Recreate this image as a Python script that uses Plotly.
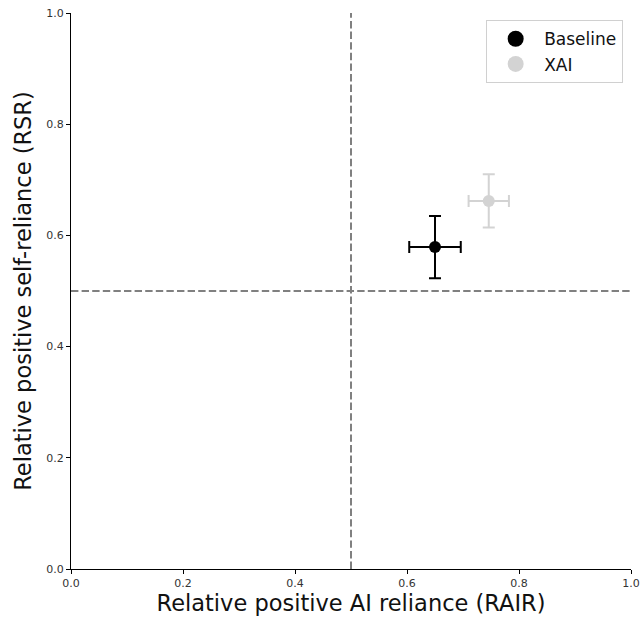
import plotly.graph_objects as go

groups = ["Baseline", "XAI"]
colors = ["black", "lightgray"]
rair = [0.650, 0.746]
rair_err = [0.046, 0.036]
rsr = [0.579, 0.662]
rsr_err = [0.056, 0.048]
threshold = 0.5
ticks = [0.0, 0.2, 0.4, 0.6, 0.8, 1.0]

fig = go.Figure()
for g, c, x, xe, y, ye in zip(groups, colors, rair, rair_err, rsr, rsr_err):
    fig.add_trace(go.Scatter(
        x=[x], y=[y], mode="markers", showlegend=False,
        marker=dict(color=c, size=12),
        error_x=dict(type="data", array=[xe], color=c, thickness=2, width=6),
        error_y=dict(type="data", array=[ye], color=c, thickness=2, width=6),
    ))
for g, c in zip(groups, colors):
    fig.add_trace(go.Scatter(x=[None], y=[None], mode="markers", name=g,
                             marker=dict(color=c, size=16)))

dash = "7.4px,3.2px"
fig.add_shape(type="line", x0=threshold, x1=threshold, y0=0, y1=1, xref="x", yref="y",
              line=dict(color="gray", width=2, dash=dash))
fig.add_shape(type="line", x0=0, x1=1, y0=threshold, y1=threshold, xref="x", yref="y",
              line=dict(color="gray", width=2, dash=dash))

axis_common = dict(range=[0, 1], tickvals=ticks, ticktext=[f"{t:.1f}" for t in ticks],
                   showgrid=False, zeroline=False, showline=True, linecolor="black",
                   linewidth=1, ticks="outside", ticklen=4, tickcolor="black",
                   automargin=False,
                   tickfont=dict(size=11, color="#333"))
fig.update_xaxes(**axis_common, title=dict(text="Relative positive AI reliance (RAIR)",
                 font=dict(size=22.5, color="#111"), standoff=6))
fig.update_yaxes(**axis_common, title=dict(text="Relative positive self-reliance (RSR)",
                 font=dict(size=22.5, color="#111"), standoff=8))

fig.update_layout(
    width=641, height=621,
    margin=dict(l=71, r=10, t=13, b=52),
    plot_bgcolor="white", paper_bgcolor="white",
    font=dict(family="DejaVu Sans"),
    legend=dict(x=0.986, y=0.987, xanchor="right", yanchor="top",
                bordercolor="#d0d0d0", borderwidth=1, bgcolor="white",
                itemwidth=47, tracegroupgap=0,
                font=dict(size=17, color="#111")),
)
fig.write_html("out.html")
